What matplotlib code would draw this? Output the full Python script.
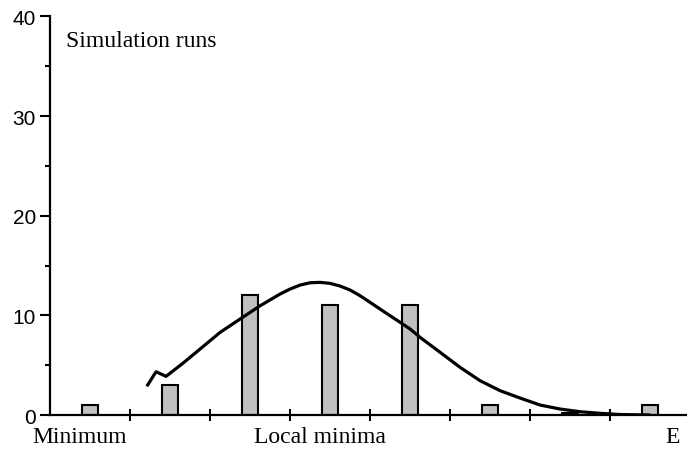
import matplotlib
matplotlib.use("Agg")
import matplotlib.pyplot as plt

# histogram of simulation runs per category
bin_pos = [0.5, 1.5, 2.5, 3.5, 4.5, 5.5, 6.5, 7.5]
runs = [1, 3, 12, 11, 11, 1, 0.25, 1]
bar_colors = ["#c0c0c0"] * 6 + ["black", "#c0c0c0"]

# fitted curve, read point by point
curve_x = [1.21, 1.325, 1.45, 1.66, 1.875, 2.125, 2.375, 2.625, 2.875, 3.0,
           3.125, 3.25, 3.375, 3.5, 3.625, 3.75, 3.875, 4.0, 4.125, 4.25,
           4.375, 4.5, 4.625, 4.875, 5.125, 5.375, 5.625, 5.875, 6.125, 6.375,
           6.625, 6.875, 7.125, 7.5]
curve_y = [2.88, 4.34, 3.88, 5.19, 6.62, 8.29, 9.63, 10.96, 12.14, 12.64,
           13.04, 13.27, 13.31, 13.21, 12.94, 12.54, 11.97, 11.30, 10.63, 9.96,
           9.30, 8.63, 7.79, 6.29, 4.78, 3.44, 2.44, 1.7, 1.0, 0.6,
           0.33, 0.17, 0.05, 0.0]

cat_labels = ["Minimum", "Local minima", "E"]
cat_pos = [0.375, 3.375, 7.78]

fig = plt.figure(figsize=(6.87, 4.52), dpi=100)
ax = fig.add_axes([0.0728, 0.0796, 0.9272, 0.882])

ax.bar(bin_pos, runs, width=0.2, color=bar_colors, edgecolor="black",
       linewidth=1.5, zorder=2)
ax.plot(curve_x, curve_y, color="black", linewidth=2.3, zorder=3,
        solid_joinstyle="round", solid_capstyle="butt")

ax.set_xlim(0, 7.96)
ax.set_ylim(0, 40)

for s in ["top", "right"]:
    ax.spines[s].set_visible(False)
for s in ["left", "bottom"]:
    ax.spines[s].set_linewidth(1.6)

ax.set_yticks([0, 10, 20, 30, 40])
ax.set_yticks([5, 15, 25, 35], minor=True)
ax.tick_params(axis="y", which="major", length=7, width=1.5, direction="out",
               labelsize=15, pad=3)
ax.tick_params(axis="y", which="minor", length=3.5, width=1.5, direction="out")
for lbl in ax.get_yticklabels():
    lbl.set_fontfamily("Liberation Sans")

ax.set_xticks([1, 2, 3, 4, 5, 6, 7])
ax.set_xticklabels([])
ax.tick_params(axis="x", which="major", length=8, width=1.5, direction="inout")

for lab, xp in zip(cat_labels, cat_pos):
    ax.text(xp, -0.055, lab, transform=ax.get_xaxis_transform(), ha="center",
            va="center", fontsize=17, family="Liberation Serif")

ax.text(0.025, 0.94, "Simulation runs", transform=ax.transAxes, ha="left",
        va="center", fontsize=17, family="Liberation Serif")

fig.savefig("out.png", dpi=100)
